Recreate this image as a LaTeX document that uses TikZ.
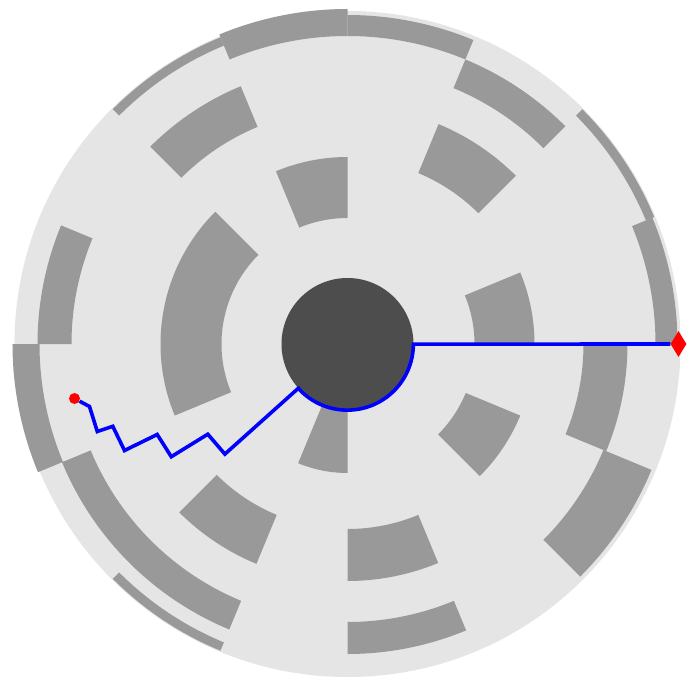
\documentclass[tikz,border=0pt]{standalone}
\definecolor{platter}{HTML}{E5E5E5}
\definecolor{sectorgrey}{HTML}{999999}
\definecolor{hubgrey}{HTML}{4D4D4D}
\definecolor{routeblue}{HTML}{0000FF}
\definecolor{markred}{HTML}{FF0000}
\usepackage{tikz}
\usetikzlibrary{shapes.geometric}

\begin{document}
\begin{tikzpicture}[x=1pt, y=1pt,
				sector/.style={fill=sectorgrey},
				hub/.style={circle, fill=hubgrey, minimum size=132pt, inner sep=0pt},
				route/.style={draw=routeblue, line width=3.6pt},
				startdot/.style={circle, fill=markred, minimum size=11pt, inner sep=0pt},
				goalmark/.style={diamond, fill=markred, minimum width=16pt, minimum height=26pt, inner sep=0pt}
			]
			\useasboundingbox[fill=white] (-347.5,-333) rectangle (339.5,344);
			% Platter
			\fill[platter] (0,0) circle[radius=333];
			% Sectors: inner r / outer r / start angle / end angle
			\foreach \ri/\ro/\sa/\sb in {
					323/332/112.5/135, 308/335/90/112.5, 308/329/67.5/90,
					235/279/112.5/135, 126/187/90/112.5, 126/187/135/202.5,
					276/310/157.5/180, 308/335/180/202.5, 278/309/202.5/247.5,
					323/332/225/247.5, 185/238/225/247.5, 60/129/247.5/270,
					185/237/270/292.5, 278/310/270/292.5, 128/187/315/337.5,
					277/329/315/337.5, 236/280/337.5/360, 277/308/45/67.5,
					323/332/22.5/45, 308/330/0/22.5, 127/187/0/22.5,
					185/238/45/67.5} {
					\fill[sector] (\sa:\ri) arc[start angle=\sa, end angle=\sb, radius=\ri]
						-- (\sb:\ro) arc[start angle=\sb, end angle=\sa, radius=\ro] -- cycle;
				}
			% Hub
			\node[hub] (hub) at (0,0) {};
			% Route
			\node[startdot] (start) at (-273,-54.5) {};
			\node[goalmark] (goal) at (331,0) {};
			\draw[route] (start) -- (-258,-62.5) -- (-250.2,-87.5) -- (-234.7,-82.3)
				-- (-223,-106.5) -- (-190.3,-90.5) -- (-176.2,-112.7) -- (-139.7,-90.2)
				-- (-122.6,-110.1) -- (hub.222) arc[start angle=222, end angle=360, radius=66]
				-- (goal);
		\end{tikzpicture}
\end{document}
